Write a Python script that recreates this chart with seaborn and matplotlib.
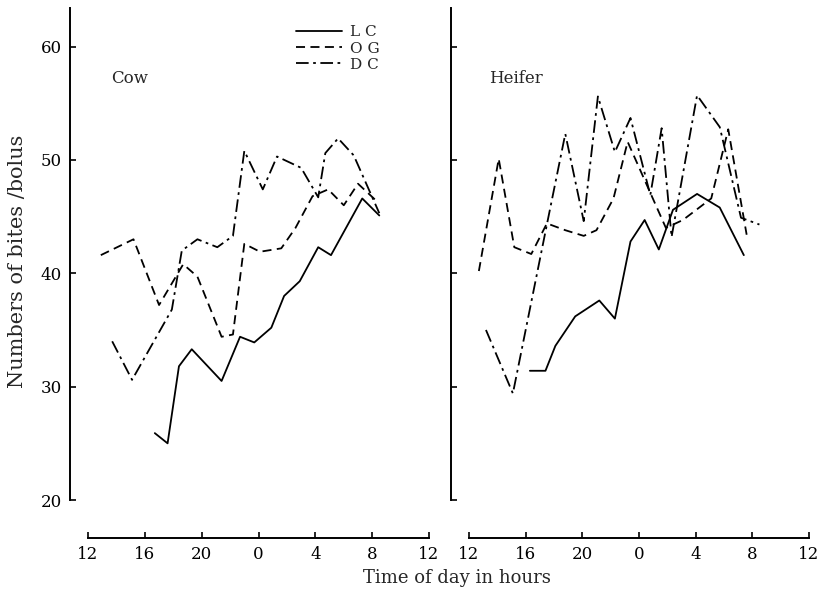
import numpy as np
import pandas as pd
import matplotlib
matplotlib.use("Agg")
import matplotlib.pyplot as plt
from matplotlib.lines import Line2D
import seaborn as sns

# ---------------- data ----------------
cow_lc_h = [16.7, 17.6, 18.4, 19.3, 21.4, 22.7, 23.7, 24.9, 25.8, 26.9, 28.2, 29.1, 31.3, 32.5]
cow_lc_v = [25.9, 25.0, 31.8, 33.3, 30.5, 34.4, 33.9, 35.2, 38.0, 39.3, 42.3, 41.6, 46.6, 45.1]

cow_og_h = [12.9, 15.2, 17.0, 18.7, 19.7, 21.4, 22.2, 23.0, 24.1, 25.6, 26.6, 27.8, 28.9, 30.0, 31.0, 32.2]
cow_og_v = [41.6, 43.0, 37.2, 40.8, 39.7, 34.4, 34.6, 42.6, 41.9, 42.2, 44.0, 46.8, 47.4, 46.0, 47.9, 46.5]

cow_dc_h = [13.7, 15.1, 17.9, 18.6, 19.7, 21.1, 22.2, 23.0, 24.3, 25.3, 27.0, 28.2, 28.7, 29.6, 30.7, 32.5]
cow_dc_v = [34.0, 30.6, 36.8, 42.0, 43.0, 42.3, 43.3, 50.8, 47.4, 50.3, 49.3, 46.7, 50.6, 51.9, 50.4, 45.3]

hf_lc_h = [16.3, 17.4, 18.1, 19.5, 21.2, 22.3, 23.4, 24.4, 25.4, 26.4, 28.1, 29.7, 31.4]
hf_lc_v = [31.4, 31.4, 33.6, 36.2, 37.6, 36.0, 42.8, 44.7, 42.1, 45.6, 47.0, 45.8, 41.6]

hf_og_h = [12.7, 14.1, 15.2, 16.4, 17.5, 18.8, 20.1, 21.0, 22.2, 23.2, 25.9, 27.1, 29.1, 30.3, 31.6]
hf_og_v = [40.2, 50.1, 42.3, 41.7, 44.4, 43.8, 43.3, 43.8, 46.6, 51.6, 44.0, 44.7, 46.6, 52.7, 43.4]

hf_dc_h = [13.2, 15.1, 17.5, 18.8, 20.1, 21.1, 22.3, 23.4, 24.8, 25.6, 26.3, 28.1, 29.7, 31.2, 32.5]
hf_dc_v = [35.0, 29.4, 44.3, 52.3, 44.6, 55.6, 50.7, 53.7, 46.9, 52.8, 43.2, 55.7, 52.9, 44.9, 44.3]

series_names = ["L C", "O G", "D C"]
panels = ["Cow", "Heifer"]
x_ticks = [12, 16, 20, 24, 28, 32, 36]
x_tick_labels = ["12", "16", "20", "0", "4", "8", "12"]
y_ticks = [20, 30, 40, 50, 60]

rows = []
for panel, sets in [("Cow", [(cow_lc_h, cow_lc_v), (cow_og_h, cow_og_v), (cow_dc_h, cow_dc_v)]),
                    ("Heifer", [(hf_lc_h, hf_lc_v), (hf_og_h, hf_og_v), (hf_dc_h, hf_dc_v)])]:
    for name, (hh, vv) in zip(series_names, sets):
        for h, v in zip(hh, vv):
            rows.append({"panel": panel, "series": name, "hour": h, "value": v})
df = pd.DataFrame(rows)

# ---------------- styling ----------------
sns.set_theme(style="ticks")
plt.rcParams["font.family"] = ["DejaVu Serif"]
plt.rcParams["axes.edgecolor"] = "black"
plt.rcParams["xtick.color"] = "black"
plt.rcParams["ytick.color"] = "black"

dash_map = {"L C": "", "O G": (5, 3), "D C": (7, 2.5, 1.5, 2.5)}

fig = plt.figure(figsize=(8.18, 5.93), dpi=100)
axL = fig.add_axes([0.1076, 0.1568, 0.4169, 0.8297])
axR = fig.add_axes([0.5733, 0.1568, 0.4157, 0.8297])

for ax, panel in [(axL, "Cow"), (axR, "Heifer")]:
    sub = df[df["panel"] == panel]
    sns.lineplot(data=sub, x="hour", y="value", style="series", style_order=series_names,
                 dashes=dash_map, color="black", linewidth=1.3, estimator=None,
                 sort=False, legend=False, ax=ax)
    ax.set_xlim(12, 36)
    ax.set_ylim(20, 63.4)
    ax.set_xticks(x_ticks)
    ax.set_xticklabels(x_tick_labels)
    ax.set_yticks(y_ticks)
    ax.set_xlabel("")
    ax.set_ylabel("")
    for s in ["top", "right"]:
        ax.spines[s].set_visible(False)
    ax.spines["left"].set_position(("outward", 13))
    ax.spines["bottom"].set_position(("outward", 27))
    for s in ["left", "bottom"]:
        ax.spines[s].set_linewidth(1.4)
        ax.spines[s].set_color("black")
    ax.tick_params(axis="both", direction="in", length=4, width=1.2, labelsize=12, pad=6)
    ax.set_facecolor("white")

axR.tick_params(axis="y", labelleft=False)

axL.text(13.6, 57.2, "Cow", fontsize=12, va="center", ha="left")
axR.text(13.4, 57.2, "Heifer", fontsize=12, va="center", ha="left")

handles = [Line2D([0], [0], color="black", lw=1.3,
                  linestyle="-" if dash_map[n] == "" else (0, dash_map[n]))
           for n in series_names]
axL.legend(handles, series_names, loc="upper left", bbox_to_anchor=(0.61, 0.965),
           frameon=False, handlelength=3.0, fontsize=11, labelspacing=0.15,
           borderpad=0, borderaxespad=0, handletextpad=0.5)

fig.text(0.022, 0.56, "Numbers of bites /bolus", rotation=90, va="center", ha="center", fontsize=15)
fig.text(0.559, 0.025, "Time of day in hours", ha="center", va="center", fontsize=13)

fig.savefig("out.png", dpi=100, facecolor="white")
